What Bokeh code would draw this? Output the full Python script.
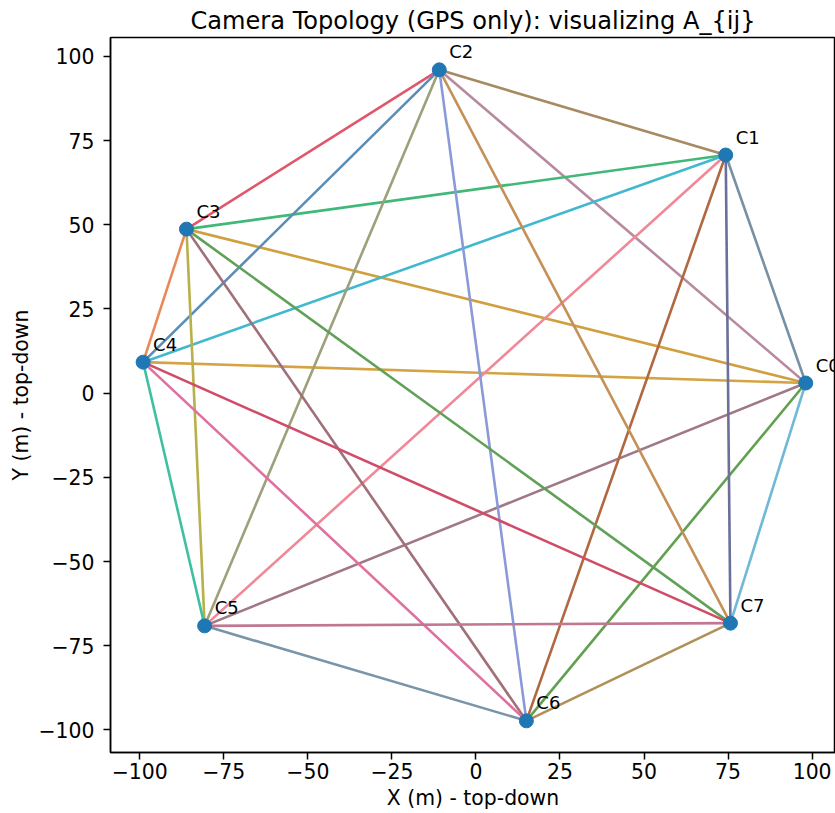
from bokeh.plotting import figure
from bokeh.models import ColumnDataSource, Range1d, FixedTicker
from bokeh.core.properties import value
from bokeh.embed import file_html
from bokeh.resources import INLINE

# ---- data ----
cam_names = ["C0", "C1", "C2", "C3", "C4", "C5", "C6", "C7"]
cam_x = [98.1, 74.3, -10.9, -86.1, -99.0, -80.7, 15.0, 75.7]
cam_y = [3.0, 70.7, 96.0, 48.7, 9.2, -69.1, -97.3, -68.3]

edge_pairs = [(0, 1), (0, 2), (0, 3), (0, 4), (0, 5), (0, 6), (0, 7),
              (1, 2), (1, 3), (1, 4), (1, 5), (1, 6), (1, 7),
              (2, 3), (2, 4), (2, 5), (2, 6), (2, 7),
              (3, 4), (3, 5), (3, 6), (3, 7),
              (4, 5), (4, 6), (4, 7),
              (5, 6), (5, 7),
              (6, 7)]
edge_colors = ["#7890a4", "#b88aa0", "#d0a040", "#d4a444", "#a07888", "#60a050", "#70b8d8",
               "#a88a60", "#40b878", "#40b8d0", "#f08898", "#b06840", "#6a7098",
               "#e0566a", "#5b8db5", "#9da07a", "#8a9ad8", "#c49058",
               "#e88a58", "#b8b048", "#a07078", "#60a058",
               "#40c0a0", "#e070a0", "#d04c68",
               "#7a94a8", "#c07890",
               "#b09058"]

tick_vals = [-100, -75, -50, -25, 0, 25, 50, 75, 100]
tick_labels = ["\u2212100", "\u221275", "\u221250", "\u221225", "0", "25", "50", "75", "100"]

FONT = "DejaVu Sans"

p = figure(width=835, height=813, output_backend="svg", toolbar_location=None,
           x_range=Range1d(-108.7, 106.95), y_range=Range1d(-106.7, 105.6),
           min_border_left=110, min_border_right=0, min_border_top=37, min_border_bottom=61,
           title="Camera Topology (GPS only): visualizing A_{ij}")

p.title.text_font = FONT
p.title.text_font_size = "24.1px"
p.title.text_font_style = "normal"
p.title.align = "center"
p.title.offset = 6
p.title.standoff = 5
p.title.text_color = "black"

p.grid.visible = False
p.outline_line_color = "black"
p.outline_line_width = 1.5
p.background_fill_color = "white"
p.border_fill_color = "white"

for ax in (p.xaxis, p.yaxis):
    ax.ticker = FixedTicker(ticks=tick_vals)
    ax.major_label_overrides = {v: l for v, l in zip(tick_vals, tick_labels)}
    ax.major_label_text_font = FONT
    ax.major_label_text_font_size = "20.4px"
    ax.major_label_text_color = "black"
    ax.axis_label_text_font = FONT
    ax.axis_label_text_font_size = "20.4px"
    ax.axis_label_text_font_style = "normal"
    ax.axis_label_text_color = "black"
    ax.major_tick_out = 7
    ax.major_tick_in = 0
    ax.minor_tick_out = 0
    ax.minor_tick_in = 0
    ax.major_tick_line_width = 1.5
    ax.axis_line_width = 1.5

p.xaxis.major_label_standoff = 3
p.xaxis.axis_label_standoff = 4
p.yaxis.major_label_standoff = 9
p.yaxis.axis_label_standoff = 2

p.xaxis.axis_label = "X (m) - top-down"
p.yaxis.axis_label = "Y (m) - top-down"
p.yaxis.major_label_orientation = "horizontal"

edge_src = ColumnDataSource(dict(
    x0=[cam_x[i] for i, j in edge_pairs],
    y0=[cam_y[i] for i, j in edge_pairs],
    x1=[cam_x[j] for i, j in edge_pairs],
    y1=[cam_y[j] for i, j in edge_pairs],
    color=edge_colors,
))
p.segment("x0", "y0", "x1", "y1", source=edge_src, line_color="color", line_width=2.6)

cam_src = ColumnDataSource(dict(x=cam_x, y=cam_y, name=cam_names))
p.scatter("x", "y", source=cam_src, size=14, fill_color="#1f77b4", line_color="#1f77b4")
p.text("x", "y", text="name", source=cam_src, x_offset=10, y_offset=-18,
       text_font=value(FONT), text_font_size="18px", text_color="black",
       text_baseline="alphabetic", text_align="left")

open("out.html", "w").write(file_html(p, INLINE))
